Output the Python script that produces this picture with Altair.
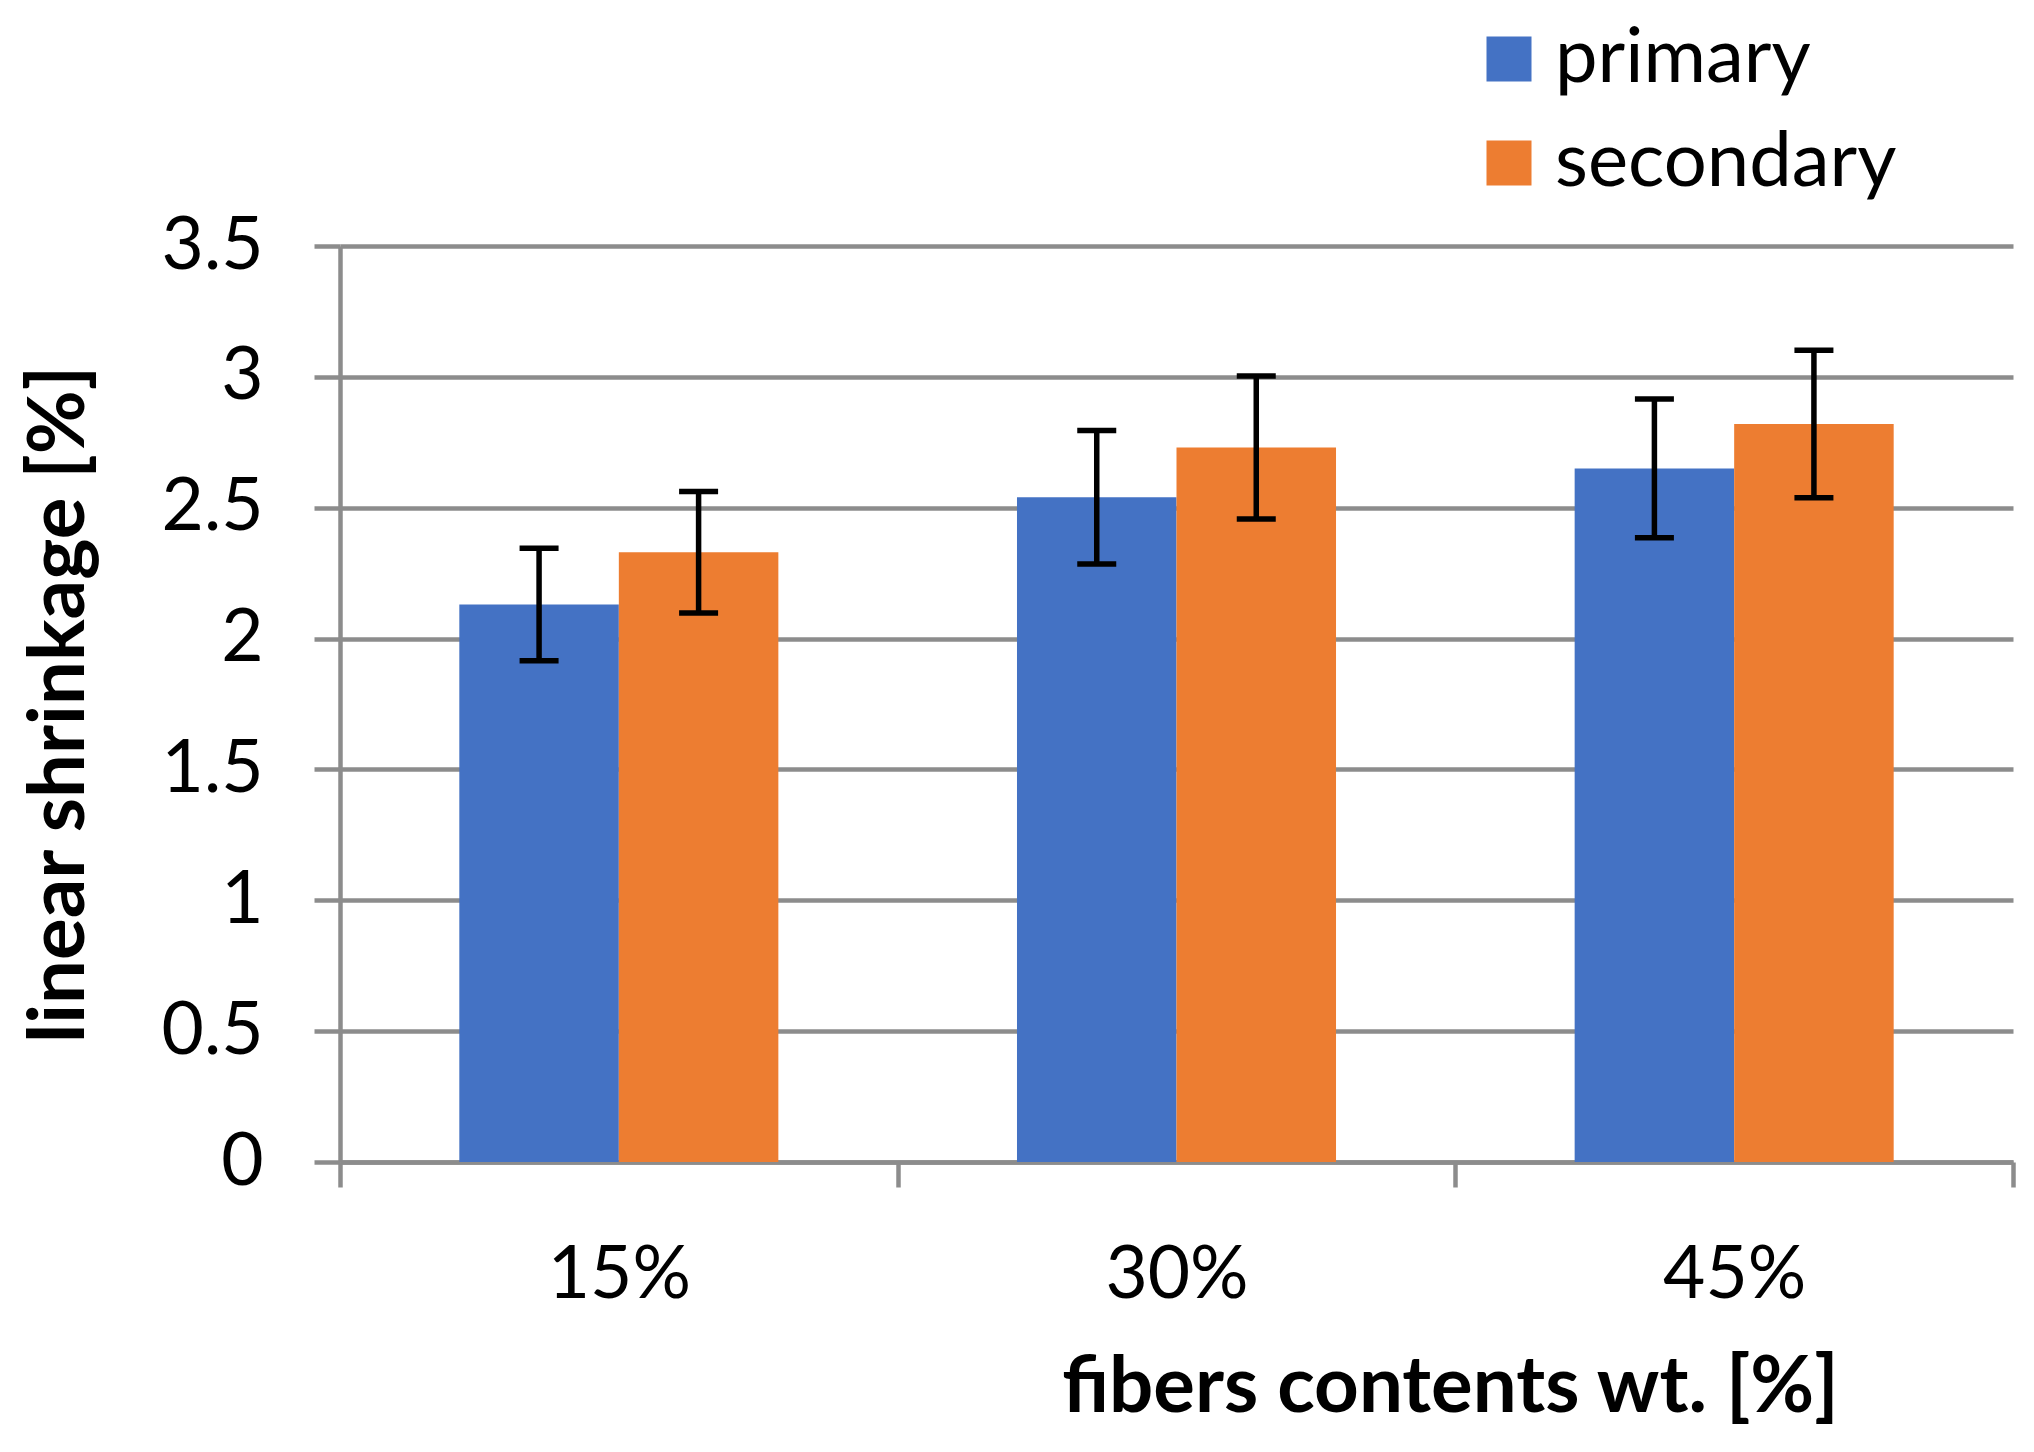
import altair as alt
import pandas as pd

contents = ["15%", "30%", "45%"]
series = ["primary", "secondary"]
primary_mean = [2.13, 2.54, 2.65]
primary_err = [0.215, 0.255, 0.265]
secondary_mean = [2.33, 2.73, 2.82]
secondary_err = [0.232, 0.273, 0.282]

rows = []
for i, c in enumerate(contents):
    rows.append({"content": c, "series": "primary", "value": primary_mean[i],
                 "lo": primary_mean[i] - primary_err[i], "hi": primary_mean[i] + primary_err[i]})
    rows.append({"content": c, "series": "secondary", "value": secondary_mean[i],
                 "lo": secondary_mean[i] - secondary_err[i], "hi": secondary_mean[i] + secondary_err[i]})
df = pd.DataFrame(rows)

FONT = "Lato"
GRID = "#8c8c8c"

x_enc = alt.X("content:N", sort=contents,
              scale=alt.Scale(paddingInner=0, paddingOuter=0),
              axis=alt.Axis(title="fibers contents wt. [%]", tickBand="extent",
                            labelAngle=0, labelFontSize=73, labelFont=FONT, labelColor="#000000",
                            labelPadding=52, tickSize=25, tickColor=GRID, tickWidth=4.5,
                            domainColor=GRID, domainWidth=4.5,
                            titleFont=FONT, titleFontSize=78, titleFontWeight="bold",
                            titleColor="#000000", titleX=1110, titleY=249,
                            titleAlign="center", titleBaseline="alphabetic"))
xo_enc = alt.XOffset("series:N", sort=series,
                     scale=alt.Scale(paddingInner=0, paddingOuter=0.748))

bars = alt.Chart(df).mark_bar().encode(
    x=x_enc,
    xOffset=xo_enc,
    y=alt.Y("value:Q", scale=alt.Scale(domain=[0, 3.5], nice=False),
            axis=alt.Axis(title="linear shrinkage [%]", values=[0, 0.5, 1, 1.5, 2, 2.5, 3, 3.5],
                          format="~g", labelFontSize=73, labelFont=FONT, labelColor="#000000",
                          labelPadding=51, tickSize=26, tickColor=GRID, tickWidth=4.5,
                          gridColor=GRID, gridWidth=4.5, grid=True,
                          domainColor=GRID, domainWidth=4.5,
                          titleFont=FONT, titleFontSize=78, titleFontWeight="bold",
                          titleColor="#000000", titleX=-257, titleY=458,
                          titleAlign="center", titleBaseline="alphabetic")),
    color=alt.Color("series:N", sort=series,
                    scale=alt.Scale(domain=series, range=["#4472C4", "#ED7D31"]),
                    legend=alt.Legend(title=None, orient="none", legendX=1131, legendY=-225,
                                      symbolType="square", symbolSize=2025, symbolStrokeWidth=0,
                                      labelFontSize=76, labelFont=FONT, labelColor="#000000",
                                      labelLimit=0, labelOffset=8, rowPadding=28)),
)

rules = alt.Chart(df).mark_rule(color="#000000", strokeWidth=5.5).encode(
    x=alt.X("content:N", sort=contents),
    xOffset=xo_enc,
    y=alt.Y("lo:Q"),
    y2="hi:Q",
)

caps_hi = alt.Chart(df).mark_tick(color="#000000", thickness=5.5, size=39, opacity=1).encode(
    x=alt.X("content:N", sort=contents),
    xOffset=xo_enc,
    y=alt.Y("hi:Q"),
)
caps_lo = alt.Chart(df).mark_tick(color="#000000", thickness=5.5, size=39, opacity=1).encode(
    x=alt.X("content:N", sort=contents),
    xOffset=xo_enc,
    y=alt.Y("lo:Q"),
)

chart = alt.layer(bars, rules, caps_hi, caps_lo).properties(
    width=1673, height=916,
    autosize=alt.AutoSizeParams(type="none"),
    padding={"left": 332, "top": 238, "right": 10, "bottom": 270},
    background="#ffffff",
).configure_view(stroke=None)

chart.save("out.html", embed_options={"renderer": "svg", "actions": False})
